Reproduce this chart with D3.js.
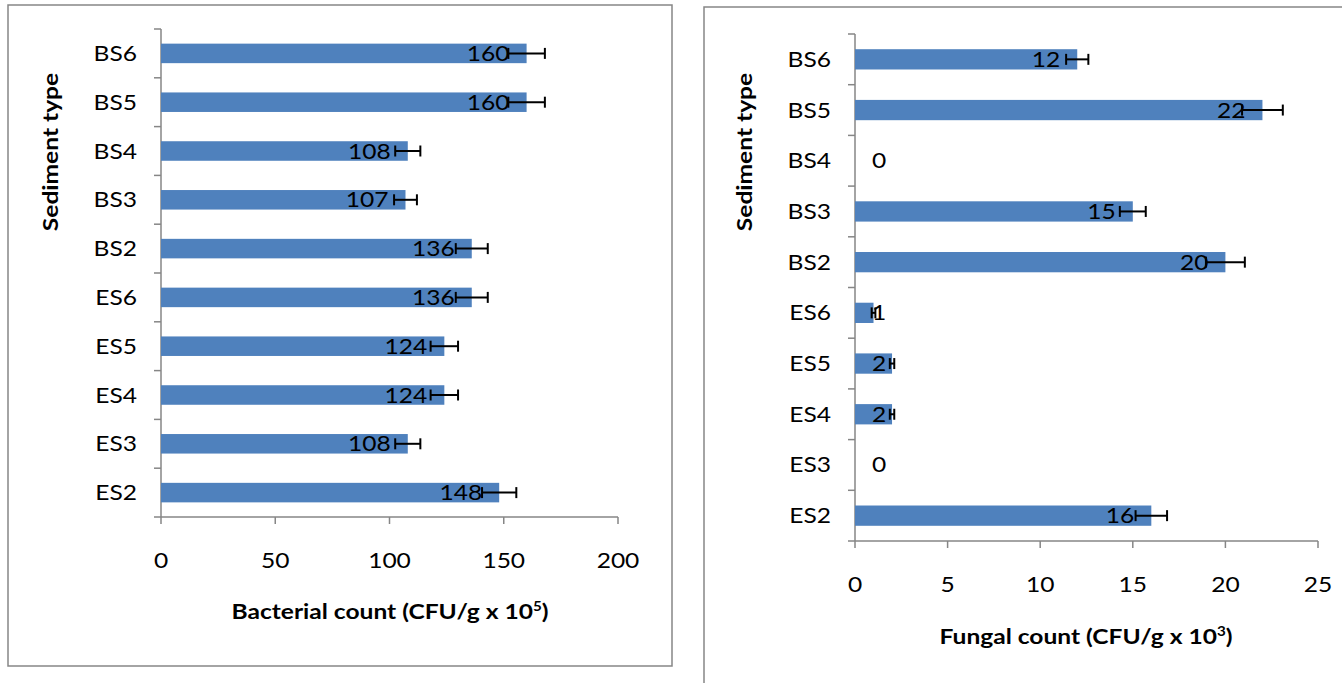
<!DOCTYPE html>
<html>
<head>
<meta charset="utf-8">
<script src="https://cdn.jsdelivr.net/npm/d3@7"></script>
<style>
  body { margin: 0; background: #fff; }
  svg { display: block; font-family: Lato, "Open Sans", sans-serif; }
</style>
</head>
<body>
<svg width="1342" height="683"></svg>
<script>
// categories from top to bottom, as in the picture
const samples = ["BS6", "BS5", "BS4", "BS3", "BS2", "ES6", "ES5", "ES4", "ES3", "ES2"];

const bacterialCount = [160, 160, 108, 107, 136, 136, 124, 124, 108, 148];
const bacterialErr   = [8, 8, 5.5, 5, 7, 7, 6, 6, 5.5, 7.5];
const bacterialTicks = [0, 50, 100, 150, 200];

const fungalCount = [12, 22, 0, 15, 20, 1, 2, 2, 0, 16];
const fungalErr   = [0.6, 1.1, 0, 0.7, 1.05, 0.1, 0.12, 0.12, 0, 0.85];
const fungalTicks = [0, 5, 10, 15, 20, 25];

const svg = d3.select("svg");
const barColor = "#4F81BD";
const axisColor = "#868686";
const stretch = 1.17; // Calibri-like proportions from Lato

// text placed at (x,y), widened a bit along its own direction
function addText(g, x, y, str, size, anchor, rot) {
    return g.append("text")
        .attr("transform", `translate(${x},${y})${rot ? " rotate(" + rot + ")" : ""} scale(${stretch},1)`)
        .attr("text-anchor", anchor)
        .attr("font-size", size)
        .attr("fill", "#000")
        .text(str);
}

// panel frames
svg.append("rect").attr("x", 8).attr("y", 5).attr("width", 664).attr("height", 661)
    .attr("fill", "none").attr("stroke", axisColor).attr("stroke-width", 1.5);
svg.append("rect").attr("x", 704).attr("y", 7).attr("width", 700).attr("height", 720)
    .attr("fill", "none").attr("stroke", axisColor).attr("stroke-width", 1.5);

function drawPanel(p) {
    const x = d3.scaleLinear().domain([0, p.ticks[p.ticks.length - 1]]).range([p.left, p.right]);
    const y = d3.scaleBand().domain(samples).range([p.top, p.bottom]).paddingInner(0.6).paddingOuter(0.3);

    const g = svg.append("g");

    // y axis line + ticks between categories
    g.append("line").attr("x1", p.left).attr("x2", p.left).attr("y1", p.top).attr("y2", p.bottom)
        .attr("stroke", axisColor).attr("stroke-width", 1.5);
    d3.range(samples.length + 1).forEach(i => {
        const yy = p.top + i * (p.bottom - p.top) / samples.length;
        g.append("line").attr("x1", p.left - 7).attr("x2", p.left).attr("y1", yy).attr("y2", yy)
            .attr("stroke", axisColor).attr("stroke-width", 1.5);
    });

    // x axis
    g.append("line").attr("x1", p.left).attr("x2", p.right).attr("y1", p.bottom).attr("y2", p.bottom)
        .attr("stroke", axisColor).attr("stroke-width", 1.5);
    p.ticks.forEach(t => {
        g.append("line").attr("x1", x(t)).attr("x2", x(t)).attr("y1", p.bottom).attr("y2", p.bottom + 7)
            .attr("stroke", axisColor).attr("stroke-width", 1.5);
        addText(g, x(t), p.bottom + p.tickDy, t, 21, "middle");
    });

    // category labels
    samples.forEach(s => {
        addText(g, p.left - 24, y(s) + y.bandwidth() / 2 + 7.5, s, 21, "end");
    });

    // bars
    g.selectAll(".bar").data(samples).enter().append("rect")
        .attr("x", p.left)
        .attr("y", d => y(d))
        .attr("width", (d, i) => x(p.values[i]) - p.left)
        .attr("height", y.bandwidth())
        .attr("fill", barColor);

    // data labels (inside end, kept off the axis)
    samples.forEach((s, i) => {
        const cy = y(s) + y.bandwidth() / 2 + 7.5;
        const txt = addText(g, 0, cy, p.values[i], 21, "start");
        const w = txt.node().getComputedTextLength() * stretch;
        let start = x(p.values[i]) - 17 - w;
        if (start < p.left + 17) start = p.left + 17;
        txt.attr("transform", `translate(${start},${cy}) scale(${stretch},1)`);
    });

    // error bars
    samples.forEach((s, i) => {
        if (!p.errors[i]) return;
        const cy = y(s) + y.bandwidth() / 2;
        const x0 = x(p.values[i] - p.errors[i]), x1 = x(p.values[i] + p.errors[i]);
        g.append("line").attr("x1", x0).attr("x2", x1).attr("y1", cy).attr("y2", cy)
            .attr("stroke", "#000").attr("stroke-width", 2);
        [x0, x1].forEach(xx => {
            g.append("line").attr("x1", xx).attr("x2", xx).attr("y1", cy - 5.5).attr("y2", cy + 5.5)
                .attr("stroke", "#000").attr("stroke-width", 2);
        });
    });

    // axis titles
    const xt = addText(g, p.xTitleX, p.xTitleY, null, 21, "middle").attr("font-weight", "bold");
    xt.append("tspan").text(p.xTitle);
    xt.append("tspan").attr("dy", -8).attr("font-size", 13).text(p.sup);
    xt.append("tspan").attr("dy", 8).text(")");

    addText(g, p.yTitleX, p.yTitleY, "Sediment type", 21, "middle", -90).attr("font-weight", "bold");
}

drawPanel({
    left: 161, right: 618, top: 29, bottom: 517,
    values: bacterialCount, errors: bacterialErr, ticks: bacterialTicks,
    tickDy: 51, xTitle: "Bacterial count (CFU/g x 10", sup: "5",
    xTitleX: 390, xTitleY: 619, yTitleX: 58, yTitleY: 152
});

drawPanel({
    left: 855, right: 1318, top: 34, bottom: 541,
    values: fungalCount, errors: fungalErr, ticks: fungalTicks,
    tickDy: 51, xTitle: "Fungal count (CFU/g x 10", sup: "3",
    xTitleX: 1086, xTitleY: 644, yTitleX: 752, yTitleY: 152
});
</script>
</body>
</html>
